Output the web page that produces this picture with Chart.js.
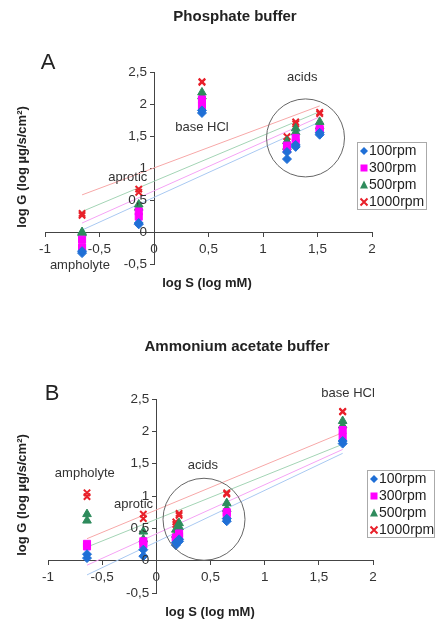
<!DOCTYPE html>
<html>
<head>
  <meta charset="utf-8">
  <title>log G vs log S</title>
  <style>
    body { margin: 0; background: #fff; }
    .panel { width: 435px; height: 310px; }
  </style>
  <script src="https://cdn.jsdelivr.net/npm/chart.js"></script>
</head>
<body>
  <div class="panel"><canvas id="chartA" width="435" height="310"></canvas></div>
  <div class="panel"><canvas id="chartB" width="435" height="310"></canvas></div>

  <script>
    // ---- data ----
    const seriesLabels = ['100rpm', '300rpm', '500rpm', '1000rpm'];

    // phosphate buffer: ampholyte, aprotic, base HCl, three acids (two readings each)
    const phosX     = [-0.66, -0.66, -0.14, -0.14, 0.44, 0.44, 1.22, 1.22, 1.30, 1.30, 1.52, 1.52];
    const phos100   = [-0.33, -0.30, 0.14, 0.12, 1.90, 1.86, 1.25, 1.14, 1.36, 1.33, 1.55, 1.52];
    const phos300   = [-0.12, -0.24, 0.32, 0.24, 2.07, 1.97, 1.35, 1.29, 1.47, 1.40, 1.61, 1.59];
    const phos500   = [-0.02, 0.00, 0.43, 0.38, 2.18, 2.12, 1.42, 1.33, 1.62, 1.56, 1.72, 1.65];
    const phos1000  = [0.29, 0.26, 0.67, 0.62, 2.35, 2.34, 1.49, 1.41, 1.72, 1.69, 1.87, 1.85];

    // phosphate trend lines (start / end)
    const phosTrendX    = [-0.66, 1.52];
    const phosTrend100  = [0.03, 1.72];
    const phosTrend300  = [0.14, 1.80];
    const phosTrend500  = [0.32, 1.88];
    const phosTrend1000 = [0.58, 1.97];

    // ammonium acetate buffer: ampholyte, aprotic, two acids, acid, base HCl
    const ammX     = [-0.64, -0.64, -0.12, -0.12, 0.18, 0.18, 0.21, 0.21, 0.65, 0.65, 1.72, 1.72];
    const amm100   = [0.10, 0.04, 0.17, 0.07, 0.28, 0.24, 0.33, 0.30, 0.65, 0.61, 1.85, 1.81];
    const amm300   = [0.26, 0.22, 0.30, 0.25, 0.36, 0.32, 0.42, 0.38, 0.75, 0.70, 2.02, 1.92];
    const amm500   = [0.72, 0.62, 0.45, 0.33, 0.48, 0.40, 0.58, 0.52, 0.89, 0.80, 2.16, 2.09];
    const amm1000  = [1.05, 0.99, 0.72, 0.65, 0.60, 0.56, 0.73, 0.70, 1.05, 1.03, 2.31, 2.30];

    const ammTrendX    = [-0.64, 1.72];
    const ammTrend100  = [-0.22, 1.66];
    const ammTrend300  = [-0.07, 1.72];
    const ammTrend500  = [0.21, 1.80];
    const ammTrend1000 = [0.34, 1.98];

    const xTicks = [-1, -0.5, 0, 0.5, 1, 1.5, 2];
    const yTicks = [-0.5, 0, 0.5, 1, 1.5, 2, 2.5];

    // ---- styles ----
    const FONT = '"Liberation Sans", Arial, sans-serif';
    const markColors = ['#1f6fd6', '#ff00ff', '#2e8b5c', '#e8202a'];
    const lineColors = ['#a9c9f2', '#f5a3f5', '#a3d4b5', '#f7a8a8'];
    const markStyles = ['rectRot', 'rect', 'triangle', 'crossRot'];
    const markSizes  = [4.5, 5, 5, 4.5];

    const pts = (xs, ys) => xs.map((x, i) => ({ x: x, y: ys[i] }));
    const comma = v => String(v).replace('.', ',');

    function buildDatasets(xs, series, tx, trends) {
      const ds = [];
      trends.forEach((t, i) => ds.push({
        label: 'trend ' + seriesLabels[i],
        data: pts(tx, t),
        showLine: true,
        borderColor: lineColors[i],
        borderWidth: 1,
        pointRadius: 0,
        order: 2
      }));
      series.forEach((s, i) => ds.push({
        label: seriesLabels[i],
        data: pts(xs, s),
        pointStyle: markStyles[i],
        pointRadius: markSizes[i],
        pointBackgroundColor: markColors[i],
        pointBorderColor: markColors[i],
        pointBorderWidth: i === 3 ? 2 : 1,
        showLine: false,
        order: 1
      }));
      return ds;
    }

    function drawMark(ctx, i, x, y) {
      ctx.save();
      ctx.fillStyle = markColors[i];
      ctx.strokeStyle = markColors[i];
      ctx.beginPath();
      if (i === 0) {
        ctx.moveTo(x, y - 4); ctx.lineTo(x + 4, y); ctx.lineTo(x, y + 4); ctx.lineTo(x - 4, y);
        ctx.closePath(); ctx.fill();
      } else if (i === 1) {
        ctx.fillRect(x - 3.5, y - 3.5, 7, 7);
      } else if (i === 2) {
        ctx.moveTo(x, y - 4.5); ctx.lineTo(x + 4, y + 3.5); ctx.lineTo(x - 4, y + 3.5);
        ctx.closePath(); ctx.fill();
      } else {
        ctx.lineWidth = 2;
        ctx.moveTo(x - 3.5, y - 3.5); ctx.lineTo(x + 3.5, y + 3.5);
        ctx.moveTo(x + 3.5, y - 3.5); ctx.lineTo(x - 3.5, y + 3.5);
        ctx.stroke();
      }
      ctx.restore();
    }

    const overlay = {
      id: 'overlay',
      afterDraw(chart, args, o) {
        const { ctx } = chart;
        const sx = chart.scales.x, sy = chart.scales.y;
        ctx.save();
        ctx.fillStyle = '#222';
        ctx.textAlign = 'center';
        ctx.textBaseline = 'middle';

        ctx.font = 'bold 15px ' + FONT;
        ctx.fillText(o.title, o.titlePos[0], o.titlePos[1]);

        ctx.font = '22px ' + FONT;
        ctx.fillText(o.letter, o.letterPos[0], o.letterPos[1]);

        ctx.font = 'bold 13px ' + FONT;
        ctx.fillText('log S (log mM)', o.xTitlePos[0], o.xTitlePos[1]);
        ctx.save();
        ctx.translate(o.yTitlePos[0], o.yTitlePos[1]);
        ctx.rotate(-Math.PI / 2);
        ctx.fillText('log G (log µg/s/cm²)', 0, 0);
        ctx.restore();

        // y tick labels, left of the axis line
        ctx.font = '13.5px ' + FONT;
        ctx.fillStyle = '#333';
        ctx.textAlign = 'right';
        const axisX = sx.getPixelForValue(0);
        sy.ticks.forEach(t => ctx.fillText(comma(t.value), axisX - 7, sy.getPixelForValue(t.value)));

        ctx.textAlign = 'center';
        ctx.font = '13px ' + FONT;
        o.notes.forEach(n => ctx.fillText(n.text, sx.getPixelForValue(n.x), sy.getPixelForValue(n.y)));

        ctx.strokeStyle = '#666';
        ctx.lineWidth = 1;
        ctx.beginPath();
        ctx.arc(sx.getPixelForValue(o.circle.x), sy.getPixelForValue(o.circle.y), o.circle.r, 0, Math.PI * 2);
        ctx.stroke();

        // legend box
        const L = o.legend;
        ctx.fillStyle = '#fff';
        ctx.fillRect(L.x, L.y, L.w, L.h);
        ctx.strokeStyle = '#aaa';
        ctx.strokeRect(L.x + 0.5, L.y + 0.5, L.w - 1, L.h - 1);
        ctx.font = '14px ' + FONT;
        ctx.textAlign = 'left';
        ctx.fillStyle = '#222';
        seriesLabels.forEach((lab, i) => {
          const yy = L.y + 9 + i * 17;
          drawMark(ctx, i, L.x + 7, yy);
          ctx.fillText(lab, L.x + 12, yy);
        });
        ctx.restore();
      }
    };

    function makeChart(id, datasets, pad, o) {
      return new Chart(document.getElementById(id), {
        type: 'scatter',
        data: { datasets: datasets },
        options: {
          responsive: false,
          animation: false,
          layout: { padding: pad },
          plugins: { legend: { display: false }, tooltip: { enabled: false }, overlay: o },
          scales: {
            x: {
              type: 'linear', min: -1, max: 2,
              position: { y: 0 },
              afterBuildTicks: s => { s.ticks = xTicks.map(v => ({ value: v })); },
              ticks: { callback: comma, font: { family: FONT, size: 13.5 }, color: '#333', padding: 5, maxRotation: 0 },
              grid: { drawOnChartArea: false, tickLength: 4, color: '#444' },
              border: { color: '#444' }
            },
            y: {
              type: 'linear', min: -0.5, max: 2.5,
              position: { x: 0 },
              afterBuildTicks: s => { s.ticks = yTicks.map(v => ({ value: v })); },
              ticks: { display: false },
              grid: { drawOnChartArea: false, tickLength: 4, color: '#444' },
              border: { color: '#444' }
            }
          }
        },
        plugins: [overlay]
      });
    }

    makeChart('chartA',
      buildDatasets(phosX, [phos100, phos300, phos500, phos1000], phosTrendX,
        [phosTrend100, phosTrend300, phosTrend500, phosTrend1000]),
      { left: 45, right: 63, top: 72, bottom: 46 },
      {
        title: 'Phosphate buffer', titlePos: [235, 17],
        letter: 'A', letterPos: [48, 63],
        xTitlePos: [207, 283], yTitlePos: [22, 167],
        notes: [
          { text: 'acids', x: 1.36, y: 2.41 },
          { text: 'base HCl', x: 0.44, y: 1.64 },
          { text: 'aprotic', x: -0.24, y: 0.86 },
          { text: 'ampholyte', x: -0.68, y: -0.53 }
        ],
        circle: { x: 1.39, y: 1.47, r: 39 },
        legend: { x: 357, y: 142, w: 70, h: 68 }
      });

    makeChart('chartB',
      buildDatasets(ammX, [amm100, amm300, amm500, amm1000], ammTrendX,
        [ammTrend100, ammTrend300, ammTrend500, ammTrend1000]),
      { left: 48, right: 62, top: 89, bottom: 27 },
      {
        title: 'Ammonium acetate buffer', titlePos: [237, 37],
        letter: 'B', letterPos: [52, 84],
        xTitlePos: [210, 302], yTitlePos: [22, 185],
        notes: [
          { text: 'base HCl', x: 1.77, y: 2.58 },
          { text: 'acids', x: 0.43, y: 1.48 },
          { text: 'ampholyte', x: -0.66, y: 1.35 },
          { text: 'aprotic', x: -0.21, y: 0.87 }
        ],
        circle: { x: 0.44, y: 0.64, r: 41 },
        legend: { x: 367, y: 160, w: 68, h: 68 }
      });
  </script>
</body>
</html>
